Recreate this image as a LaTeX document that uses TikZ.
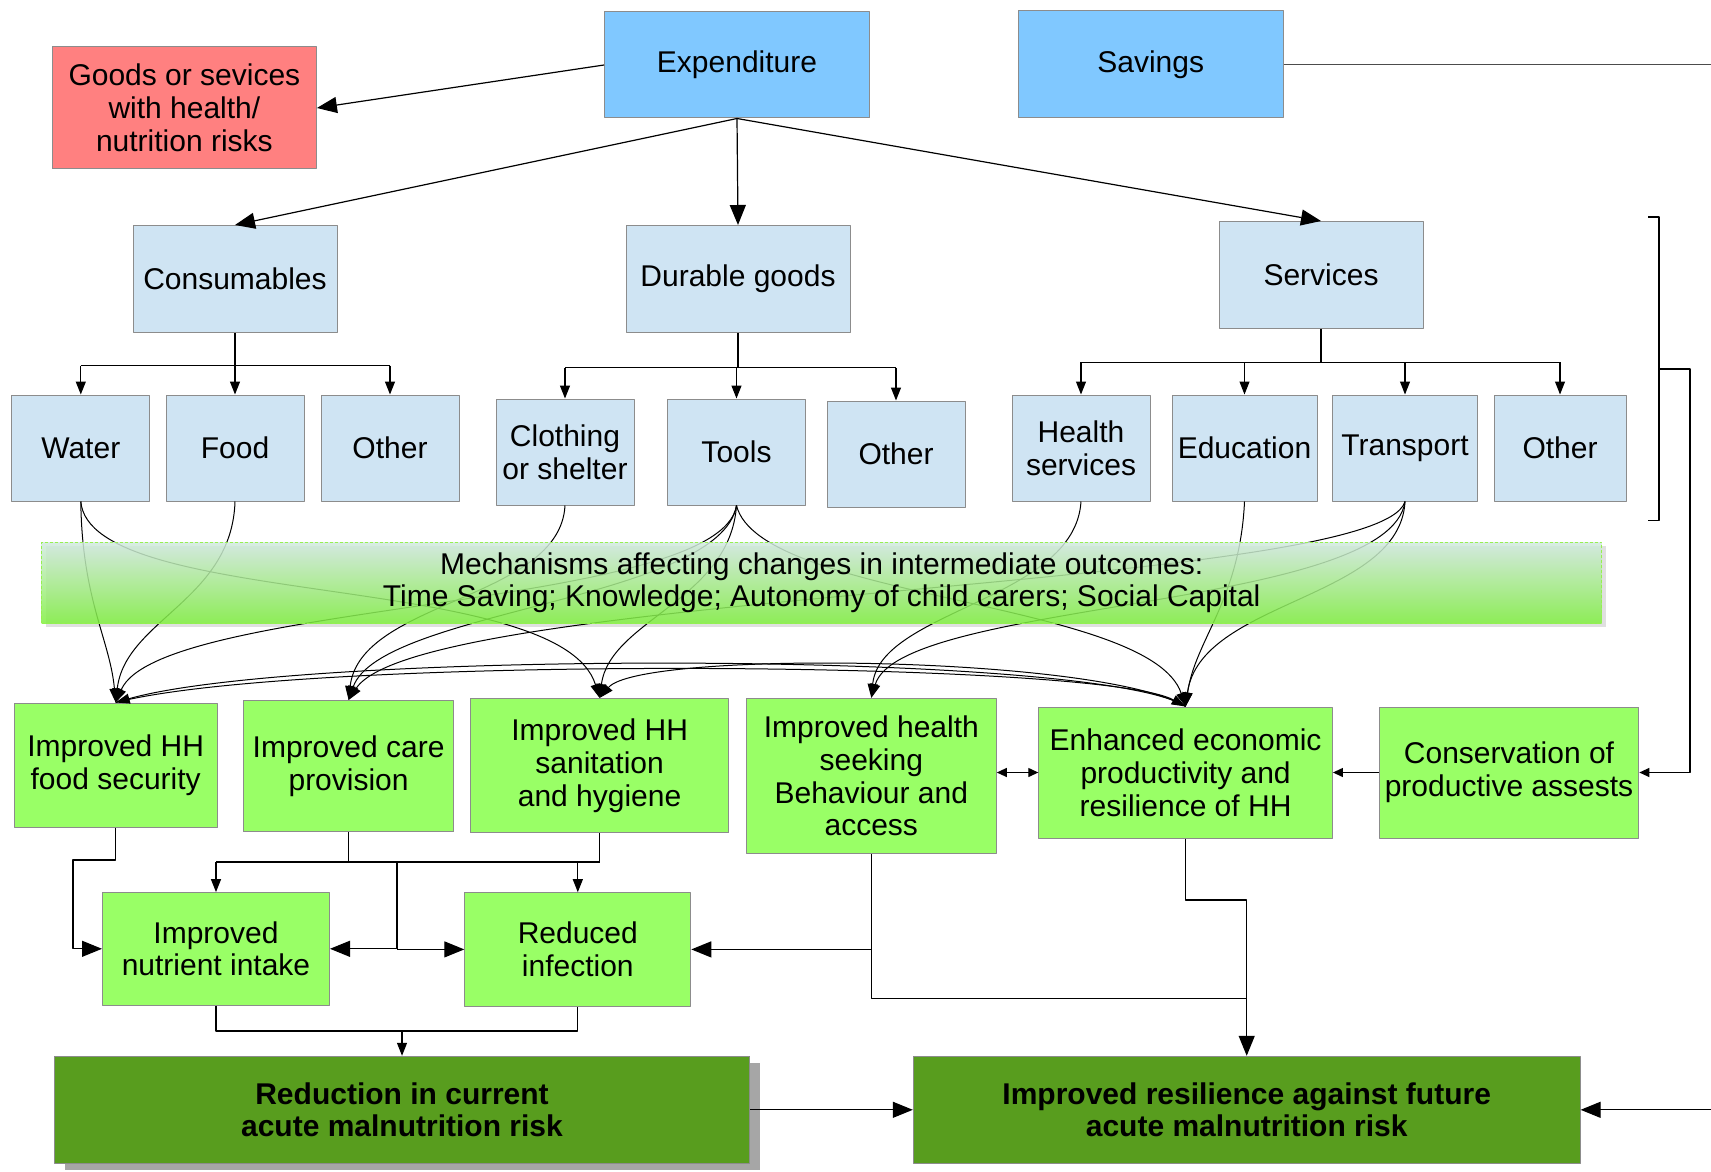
\documentclass[tikz,border=0pt]{standalone}
\usepackage{fontspec}
\setmainfont{Liberation Sans}
\usetikzlibrary{arrows.meta,shadows}
\definecolor{boxline}{RGB}{140,140,140}
\definecolor{riskred}{RGB}{255,128,128}
\definecolor{topblue}{RGB}{128,200,255}
\definecolor{paleblue}{RGB}{207,228,243}
\definecolor{litegreen}{RGB}{153,255,102}
\definecolor{darkgreen}{RGB}{88,157,30}
\definecolor{bandtop}{RGB}{210,234,224}
\definecolor{bandbot}{RGB}{128,240,64}
\definecolor{bandedge}{RGB}{150,240,80}
\begin{document}
\begin{tikzpicture}[x=0.5pt,y=-0.5pt,line join=round,
  box/.style={draw=boxline,line width=0.5pt,align=center,inner sep=1pt,font=\fontsize{15}{16.4}\selectfont},
  catbox/.style={box,fill=paleblue,minimum height=53.5pt},
  subbox/.style={box,fill=paleblue,minimum width=69pt,minimum height=53pt},
  gbox/.style={box,fill=litegreen},
  dbox/.style={box,fill=darkgreen,font=\fontsize{15}{16.4}\selectfont\bfseries},
  bigarr/.style={line width=0.6pt,-{Triangle[length=10pt,width=8pt]}},
  midarr/.style={line width=0.6pt,-{Triangle[length=6.5pt,width=5pt]}},
  smallarr/.style={line width=0.6pt,-{Triangle[length=5pt,width=4.5pt]}},
  curv/.style={line width=0.5pt,-{Triangle[length=7pt,width=5pt]}}]
\useasboundingbox (0,0) rectangle (1711,1171);
\def\cbus{365.6} \def\dbus{367.7} \def\sbus{362.3}

\node[box,fill=riskred,minimum width=132pt,minimum height=61pt] (goods) at (184.4,108) {Goods or sevices\\with health/\\nutrition risks};
\node[box,fill=topblue,minimum width=132.5pt,minimum height=53pt] (exp) at (737,65) {Expenditure};
\node[box,fill=topblue,minimum width=132.5pt,minimum height=53.5pt] (sav) at (1150.7,64.4) {Savings};
\coordinate (savend) at (1711,64.4);

\node[catbox,minimum width=102pt] (cons) at (235,279) {Consumables};
\node[catbox,minimum width=112pt] (dur) at (738,279) {Durable goods};
\node[catbox,minimum width=102pt] (serv) at (1321,275) {Services};

\node[subbox] (water) at (80.8,448) {Water};
\node[subbox] (food) at (235,448) {Food};
\node[subbox] (oth1) at (390,448) {Other};
\node[subbox] (cloth) at (565,452) {Clothing\\or shelter};
\node[subbox] (tools) at (736.5,452) {Tools};
\node[subbox] (oth2) at (896,454) {Other};
\node[subbox] (hserv) at (1081,448) {Health\\services};
\node[subbox,minimum width=72.5pt] (edu) at (1244.5,448) {Education};
\node[subbox,minimum width=72.5pt] (trans) at (1405,448) {Transport};
\node[subbox,minimum width=66pt] (oth3) at (1560,448) {Other};

\node[gbox,minimum width=101.5pt,minimum height=62pt] (fs) at (115.7,765) {Improved HH\\food security};
\node[gbox,minimum width=105.3pt,minimum height=65.5pt] (care) at (348.6,766) {Improved care\\provision};
\node[gbox,minimum width=129.3pt,minimum height=67pt] (san) at (599.6,765.5) {Improved HH\\sanitation\\and hygiene};
\node[gbox,minimum width=125pt,minimum height=77.5pt] (hs) at (871.3,775.9) {Improved health\\seeking\\Behaviour and\\access};
\node[gbox,minimum width=146.8pt,minimum height=65.5pt] (enh) at (1185.6,772.5) {Enhanced economic\\productivity and\\resilience of HH};
\node[gbox,minimum width=129.8pt,minimum height=65.5pt] (cpa) at (1509,772.5) {Conservation of\\productive assests};
\node[gbox,minimum width=113.5pt,minimum height=56.2pt] (nut) at (216,948.8) {Improved\\nutrient intake};
\node[gbox,minimum width=113pt,minimum height=56.7pt] (inf) at (577.8,949.4) {Reduced\\infection};
\node[dbox,minimum width=347.5pt,minimum height=53.5pt,drop shadow={shadow xshift=5pt,shadow yshift=-3.5pt,fill=black!35,opacity=1}] (red) at (402,1109.8) {Reduction in current\\acute malnutrition risk};
\node[dbox,minimum width=333.4pt,minimum height=53.5pt] (res) at (1246.7,1109.8) {Improved resilience against future\\acute malnutrition risk};
\coordinate (resend) at (1711,1109.8);

\draw[bigarr] (exp.west) -- (goods.east);
\draw[bigarr] (exp.south) -- (cons.north);
\draw[bigarr] (exp.south) -- (dur.north);
\draw[bigarr] (exp.south) -- (serv.north);
\draw[line width=0.6pt,black!70] (sav.east) -- (savend);

\draw[line width=0.6pt] (cons.south) -- (235,\cbus) (80.8,\cbus) -- (390,\cbus);
\foreach \n in {water,food,oth1} \draw[midarr] (\n.north |- 0,\cbus) -- (\n.north);
\draw[line width=0.6pt] (dur.south) -- (738,\dbus) (565,\dbus) -- (896,\dbus);
\foreach \n in {cloth,tools,oth2} \draw[midarr] (\n.north |- 0,\dbus) -- (\n.north);
\draw[line width=0.6pt] (serv.south) -- (1321,\sbus) (1081,\sbus) -- (1560,\sbus);
\foreach \n in {hserv,edu,trans,oth3} \draw[midarr] (\n.north |- 0,\sbus) -- (\n.north);

\draw[line width=0.6pt] (1648,217) -- (1659,217) -- (1659,520.5) -- (1648,520.5);
\coordinate (brk) at (1659,369);
\draw[smallarr] (brk) -- (1690,369) |- (cpa.east);

\fill[black!12] (45.5,546.3) rectangle (1606,627);
\draw[curv] (water.south) .. controls (82,600) and (110,640) .. (fs.north);
\draw[curv] (water.south) .. controls (90,610) and (560,570) .. (san.north);
\draw[curv] (food.south) .. controls (232,600) and (125,620) .. (fs.north);
\draw[curv] (tools.south) .. controls (720,610) and (160,600) .. (fs.north);
\draw[curv] (enh.north) .. controls (1100,650) and (300,650) .. (fs.north);
\draw[curv] (cloth.south) .. controls (560,600) and (360,600) .. (care.north);
\draw[curv] (tools.south) .. controls (720,600) and (380,610) .. (care.north);
\draw[curv] (tools.south) .. controls (730,600) and (610,620) .. (san.north);
\draw[curv] (enh.north) .. controls (1100,655) and (640,650) .. (san.north);
\draw[curv] (fs.north) .. controls (300,655) and (1100,660) .. (enh.north);
\draw[curv] (hserv.south) .. controls (1075,600) and (880,610) .. (hs.north);
\draw[curv] (trans.south) .. controls (1390,610) and (900,600) .. (hs.north);
\draw[curv] (edu.south) .. controls (1240,600) and (1195,640) .. (enh.north);
\draw[curv] (trans.south) .. controls (1400,600) and (1200,600) .. (enh.north);
\draw[curv] (tools.south) .. controls (760,600) and (1150,600) .. (enh.north);
\draw[curv] (trans.south) .. controls (1380,590) and (420,590) .. (care.north);

\node[box,draw=bandedge,dash pattern=on 1.5pt off 1pt,top color=bandtop,bottom color=bandbot,middle color=bandbot!50!bandtop,fill opacity=0.85,text opacity=1,minimum width=780pt,minimum height=40.5pt] (mech) at (821.7,582.7) {Mechanisms affecting changes in intermediate outcomes:\\Time Saving; Knowledge; Autonomy of child carers; Social Capital};

\draw[line width=0.6pt,{Triangle[length=5pt,width=4.5pt]}-{Triangle[length=5pt,width=4.5pt]}] (enh.west -| hs.east) -- (enh.west);
\draw[smallarr] (cpa.west) -- (enh.east);

\draw[bigarr] (fs.south) -- (115.7,860) -- (73,860) |- (nut.west);
\coordinate (cbot) at (397,862);
\draw[line width=0.6pt] (care.south) -- (care.south |- cbot) (san.south) -- (san.south |- cbot) (nut.north |- cbot) -- (san.south |- cbot) (cbot) -- (cbot |- nut.east);
\draw[midarr] (nut.north |- cbot) -- (nut.north);
\draw[midarr] (inf.north |- cbot) -- (inf.north);
\draw[bigarr] (cbot |- nut.east) -- (nut.east);
\draw[bigarr] (cbot |- inf.west) -- (inf.west);

\coordinate (hsb) at (871.3,998.5);
\draw[line width=0.6pt] (hs.south) -- (hsb) -- (hsb -| res.north);
\draw[bigarr] (hs.south |- inf.east) -- (inf.east);
\draw[bigarr] (enh.south) -- (1185.6,900) -| (res.north);
\coordinate (nbot) at (402,1031);
\draw[line width=0.6pt] (nut.south) |- (nbot) -| (inf.south);
\draw[midarr] (nbot) -- (red.north);
\draw[bigarr] (red.east) -- (res.west);
\draw[bigarr] (resend) -- (res.east);
\end{tikzpicture}
\end{document}
